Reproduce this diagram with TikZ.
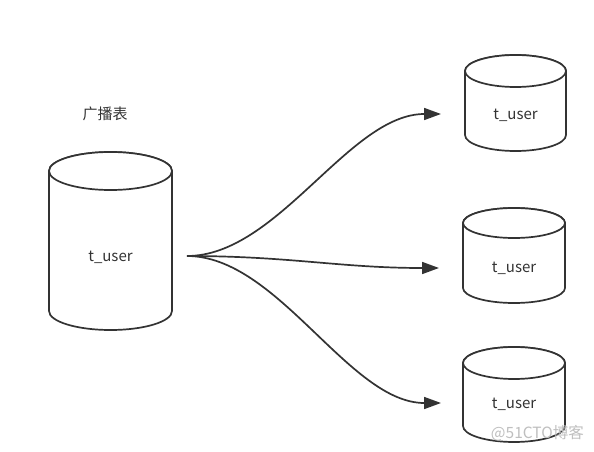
\documentclass[tikz,border=0pt]{standalone}
\usepackage{fontspec}
\setmainfont{Noto Sans CJK SC}
\usetikzlibrary{arrows.meta}
\definecolor{ink}{HTML}{333333}
\tikzset{
  cyl/.style={draw=ink, line width=1.7pt, fill=white},
  lbl/.style={text=ink, font=\fontsize{15}{18}\selectfont, inner sep=0pt},
  conn/.style={draw=ink, line width=1.7pt, -{Triangle[length=17pt,width=12pt]}},
}
% #1 name, #2 left, #3 right, #4 top, #5 bottom, #6 ry, #7 text y
\newcommand{\mycyl}[7]{%
  \pgfmathsetmacro{\cx}{(#2+#3)/2}%
  \pgfmathsetmacro{\rx}{(#3-#2)/2}%
  \path[cyl] (#2,-#4-#6) -- (#2,-#5+#6)
    arc[start angle=180, end angle=360, x radius=\rx, y radius=#6]
    -- (#3,-#4-#6) arc[start angle=0, end angle=180, x radius=\rx, y radius=#6] -- cycle;
  \draw[cyl] (\cx,-#4-#6) ellipse[x radius=\rx, y radius=#6];
  \node[lbl] (#1) at (\cx,-#7) {t\_user};
}
\begin{document}
\begin{tikzpicture}[x=1pt,y=1pt]
\useasboundingbox[fill=white] (0,0) rectangle (594,-452);
\mycyl{big}{49}{172}{152}{330}{19}{257}
\mycyl{u1}{465}{566}{55}{151}{16}{115}
\mycyl{u2}{463}{565}{208}{303}{15}{268}
\mycyl{u3}{463}{565}{347}{442}{16}{404}
\node[lbl] (title) at (105,-114) {广播表};
\coordinate (src) at (187,-256);
\coordinate (d1) at (441,-114);
\coordinate (d2) at (439,-268);
\coordinate (d3) at (441,-403);
\draw[conn] (src) .. controls (278,-256) and (349,-114) .. (d1);
\draw[conn] (src) .. controls (290,-256) and (340,-268) .. (d2);
\draw[conn] (src) .. controls (278,-256) and (349,-403) .. (d3);
\node[text=black!25, font=\fontsize{15.5}{18}\selectfont, inner sep=0pt, anchor=east] (wm) at (584,-433) {@51CTO博客};
\end{tikzpicture}
\end{document}
